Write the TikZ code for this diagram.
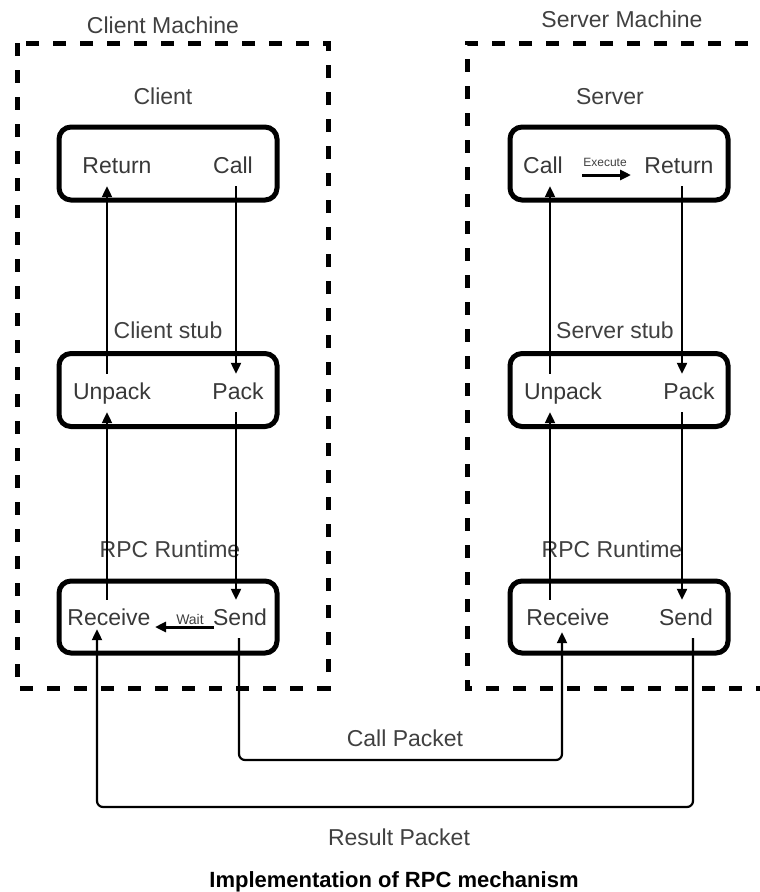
\documentclass[tikz,border=0pt]{standalone}
\usepackage{fontspec}
\setmainfont{Liberation Sans}
\usetikzlibrary{arrows.meta}
\begin{document}
\begin{tikzpicture}[x=1pt,y=-1pt,
  machine/.style={draw=black,line width=5pt,dash pattern=on 13pt off 14pt},
  layer/.style={draw=black,line width=5pt,rounded corners=12pt},
  lbl/.style={font=\fontsize{23}{27}\selectfont,text=black!78,text height=17pt,text depth=5pt,inner xsep=1pt,inner ysep=8pt},
  ttl/.style={font=\fontsize{23}{27}\selectfont,text=black!75,anchor=base,inner sep=0pt},
  small/.style={font=\fontsize{12}{14}\selectfont,text=black!75,inner sep=0pt},
  arr/.style={line width=2.2pt,-{Triangle[width=10pt,length=11pt]}},
  flow/.style={line width=2.2pt,rounded corners=6pt},
  side/.style={line width=3pt,-{Triangle[width=10pt,length=11pt]}}]
\useasboundingbox (0,0) rectangle (760,892);
% machines
\draw[machine] (17,43) rectangle (328,688);
\draw[machine] (775,43) -- (467,43) -- (467,688) -- (775,688);
\node[ttl] (tcm) at (163,33) {Client Machine};
\node[ttl] (tsm) at (622,27) {Server Machine};
% layer boxes
\node[layer,minimum width=218pt,minimum height=73pt] (cbox) at (168,163.5) {};
\node[layer,minimum width=218pt,minimum height=73pt] (cstub) at (168,390) {};
\node[layer,minimum width=218pt,minimum height=72pt] (crpc) at (168,617) {};
\node[layer,minimum width=218pt,minimum height=73pt] (sbox) at (619,163.5) {};
\node[layer,minimum width=218pt,minimum height=73pt] (sstub) at (619,390) {};
\node[layer,minimum width=218pt,minimum height=72pt] (srpc) at (619,617) {};
% titles
\node[ttl] (tc) at (163,104) {Client};
\node[ttl] (ts) at (610,104) {Server};
\node[ttl] (tcs) at (168,338) {Client stub};
\node[ttl] (tss) at (615,338) {Server stub};
\node[ttl] (tcr) at (170,557) {RPC Runtime};
\node[ttl] (tsr) at (612,557) {RPC Runtime};
% client texts
\node[lbl] (retC) at (117,167) {Return};
\node[lbl] (callC) at (233,167) {Call};
\node[lbl] (unpC) at (112,393) {Unpack};
\node[lbl] (packC) at (238,393) {Pack};
\node[lbl] (recvC) at (109,619) {Receive};
\node[lbl] (sendC) at (240,619) {Send};
% server texts
\node[lbl] (callS) at (543,167) {Call};
\node[lbl] (retS) at (679,167) {Return};
\node[lbl] (unpS) at (563,393) {Unpack};
\node[lbl] (packS) at (689,393) {Pack};
\node[lbl] (recvS) at (568,619) {Receive};
\node[lbl] (sendS) at (686,619) {Send};
% small in-box arrows
\node[small] (exe) at (605,162) {Execute};
\coordinate (exeA) at (582,175);
\coordinate (exeB) at (631,175);
\draw[side] (exeA) -- (exeB);
\node[small,font=\fontsize{14}{16}\selectfont] (wait) at (190,619) {Wait};
\coordinate (waitA) at (214,627);
\coordinate (waitB) at (155,627);
\draw[side] (waitA) -- (waitB);
% columns
\coordinate (cL) at (107,0);
\coordinate (cR) at (236,0);
\coordinate (cRin) at (97,0);
\coordinate (cSout) at (239,0);
\coordinate (sL) at (550,0);
\coordinate (sR) at (682,0);
\coordinate (sRin) at (562,0);
\coordinate (sSout) at (693,0);
\coordinate (cpk) at (0,760);
\coordinate (rpk) at (0,807);
% client vertical arrows
\draw[arr] (recvC.north -| cL) -- (unpC.south -| cL);
\draw[arr] (unpC.north -| cL) -- (retC.south -| cL);
\draw[arr] (callC.south -| cR) -- (packC.north -| cR);
\draw[arr] (packC.south -| cR) -- (sendC.north -| cR);
% server vertical arrows
\draw[arr] (recvS.north -| sL) -- (unpS.south -| sL);
\draw[arr] (unpS.north -| sL) -- (callS.south -| sL);
\draw[arr] (retS.south -| sR) -- (packS.north -| sR);
\draw[arr] (packS.south -| sR) -- (sendS.north -| sR);
% packets
\draw[flow,arr,shorten >=-6pt] (sendC.south -| cSout) -- (cSout |- cpk) -- (sRin |- cpk) -- (recvS.south -| sRin);
\draw[flow,arr,shorten >=-9pt] (sendS.south -| sSout) -- (sSout |- rpk) -- (cRin |- rpk) -- (recvC.south -| cRin);
\node[ttl] (tcp) at (405,746) {Call Packet};
\node[ttl] (trp) at (399,845) {Result Packet};
\node[ttl,font=\bfseries\fontsize{22}{26}\selectfont,text=black] (cap) at (394,887) {Implementation of RPC mechanism};
\end{tikzpicture}
\end{document}
